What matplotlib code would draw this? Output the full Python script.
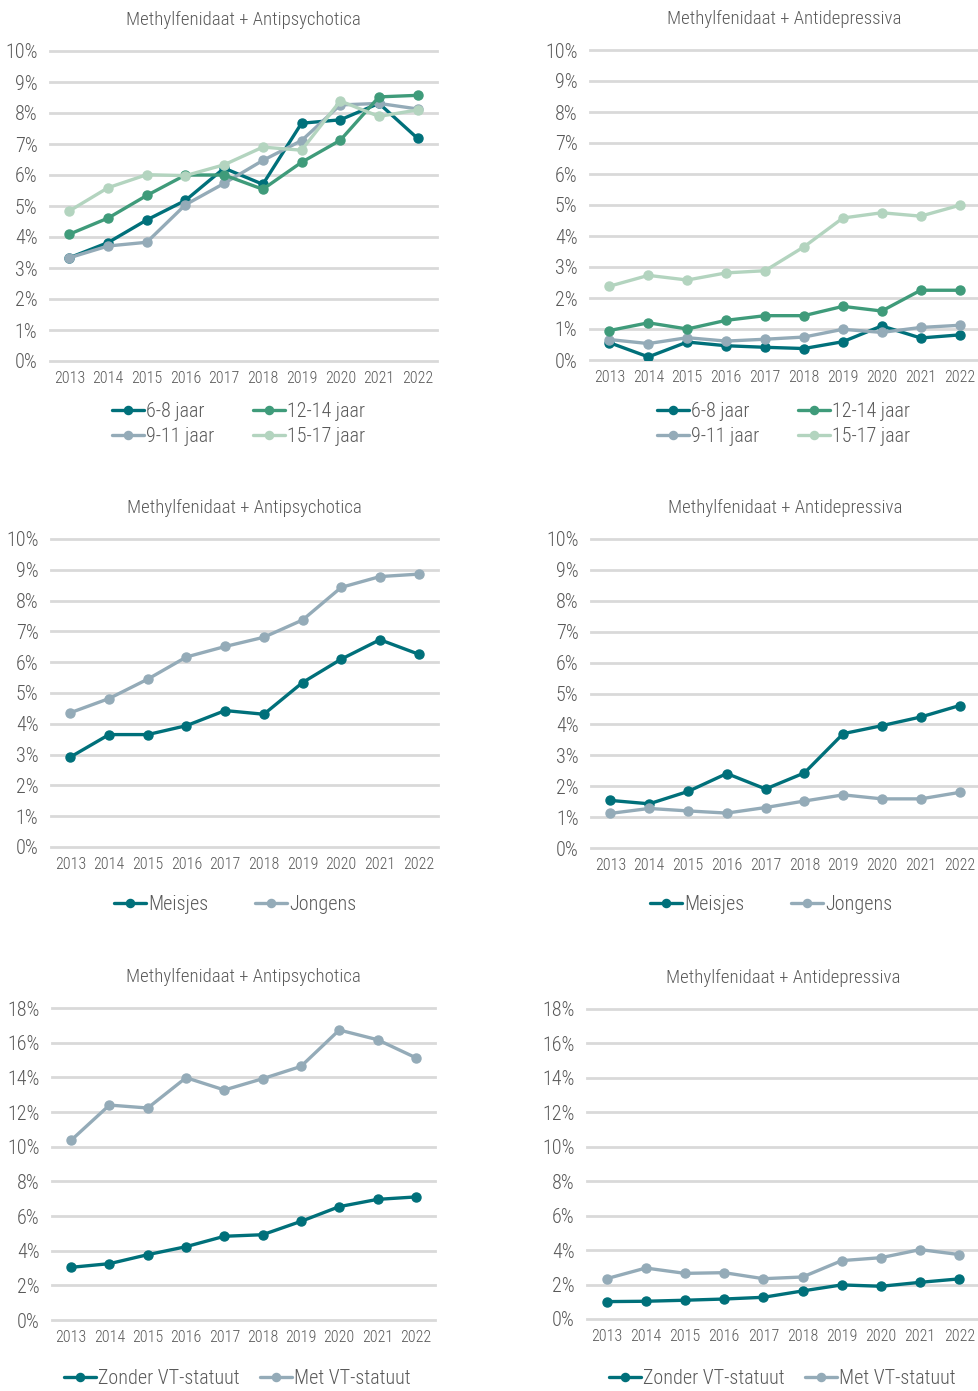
import matplotlib
matplotlib.use("Agg")
import matplotlib.pyplot as plt
from matplotlib import font_manager

# pick a narrow font if we have one
FONT = "DejaVu Sans"
for name in ["Liberation Sans Narrow", "Roboto Condensed", "Roboto", "Liberation Sans"]:
    try:
        font_manager.findfont(font_manager.FontProperties(family=name), fallback_to_default=False)
        FONT = name
        break
    except Exception:
        pass
plt.rcParams["font.family"] = [FONT, "DejaVu Sans"]
plt.rcParams["font.weight"] = "light"

years = [str(y) for y in range(2013, 2023)]

# leeftijd - antipsychotica
ap_6_8 = [3.33, 3.82, 4.55, 5.18, 6.22, 5.70, 7.67, 7.78, 8.31, 7.18]
ap_9_11 = [3.33, 3.71, 3.83, 5.04, 5.73, 6.47, 7.11, 8.26, 8.31, 8.13]
ap_12_14 = [4.09, 4.61, 5.34, 6.00, 6.00, 5.54, 6.41, 7.12, 8.52, 8.57]
ap_15_17 = [4.84, 5.59, 6.01, 5.98, 6.33, 6.90, 6.80, 8.39, 7.89, 8.10]

# leeftijd - antidepressiva
ad_6_8 = [0.56, 0.10, 0.58, 0.46, 0.41, 0.37, 0.59, 1.10, 0.71, 0.81]
ad_9_11 = [0.66, 0.53, 0.72, 0.61, 0.67, 0.74, 0.99, 0.89, 1.05, 1.12]
ad_12_14 = [0.95, 1.20, 1.00, 1.28, 1.43, 1.43, 1.73, 1.58, 2.25, 2.25]
ad_15_17 = [2.38, 2.73, 2.58, 2.81, 2.88, 3.65, 4.58, 4.75, 4.64, 4.99]

# geslacht
ap_meisjes = [2.92, 3.65, 3.65, 3.94, 4.43, 4.31, 5.34, 6.10, 6.73, 6.26]
ap_jongens = [4.36, 4.82, 5.45, 6.17, 6.51, 6.81, 7.37, 8.43, 8.78, 8.86]
ad_meisjes = [1.54, 1.43, 1.83, 2.41, 1.91, 2.43, 3.70, 3.96, 4.24, 4.61]
ad_jongens = [1.12, 1.28, 1.20, 1.13, 1.31, 1.52, 1.72, 1.59, 1.59, 1.80]

# VT-statuut
ap_zonder = [3.04, 3.25, 3.77, 4.23, 4.83, 4.92, 5.69, 6.54, 6.96, 7.10]
ap_met = [10.37, 12.40, 12.23, 13.98, 13.27, 13.92, 14.63, 16.73, 16.17, 15.13]
ad_zonder = [1.01, 1.03, 1.09, 1.16, 1.26, 1.63, 1.98, 1.90, 2.13, 2.33]
ad_met = [2.34, 2.96, 2.65, 2.69, 2.34, 2.44, 3.39, 3.56, 4.03, 3.74]

TEAL = "#00707a"
GREEN = "#3f9b7a"
GREYBLUE = "#94abb8"
LIGHTGREEN = "#b3d4bf"
TXT = "#595959"
GRID = "#d9d9d9"

W, H = 979, 1391
fig = plt.figure(figsize=(W / 100, H / 100), dpi=100)


def panel(x0, y0, x1, y1, title, series, ymax, ystep, leg_x, leg_y, colspace):
    ax = fig.add_axes([x0 / W, 1 - y1 / H, (x1 - x0) / W, (y1 - y0) / H])
    x = list(range(len(years)))
    for vals, lab, col in series:
        ax.plot(x, vals, color=col, lw=2.4, marker="o", ms=6.5, label=lab,
                mfc=col, mec=col, solid_capstyle="round")
    ax.set_xlim(-0.5, 9.5)
    ax.set_ylim(0, ymax)
    ticks = list(range(0, ymax + 1, ystep))
    ax.set_yticks(ticks)
    ax.set_yticklabels([f"{t}%" for t in ticks])
    ax.set_xticks(x)
    ax.set_xticklabels(years)
    ax.tick_params(axis="y", length=0, pad=9, labelsize=14.5, labelcolor=TXT)
    ax.tick_params(axis="x", length=0, pad=7, labelsize=11.5, labelcolor=TXT)
    for s in ax.spines.values():
        s.set_visible(False)
    ax.yaxis.grid(True, color=GRID, lw=2)
    for gl in ax.get_ygridlines():
        gl.set_clip_on(False)
    ax.set_axisbelow(True)
    ax.set_title(title, color=TXT, fontsize=13.5, pad=19, fontweight="light")
    ax.legend(loc="upper left", bbox_to_anchor=(leg_x / W, 1 - leg_y / H),
              bbox_transform=fig.transFigure, ncol=2, frameon=False,
              fontsize=14.5, labelcolor=TXT, handlelength=1.6, handletextpad=0.1,
              columnspacing=colspace, borderaxespad=0, borderpad=0, labelspacing=0.32,
              markerscale=0.9)
    return ax


panel(50, 51, 437, 361, "Methylfenidaat + Antipsychotica",
      [(ap_6_8, "6-8 jaar", TEAL), (ap_9_11, "9-11 jaar", GREYBLUE),
       (ap_12_14, "12-14 jaar", GREEN), (ap_15_17, "15-17 jaar", LIGHTGREEN)],
      10, 1, 112, 402, 1.9)
panel(590, 50, 979, 360, "Methylfenidaat + Antidepressiva",
      [(ad_6_8, "6-8 jaar", TEAL), (ad_9_11, "9-11 jaar", GREYBLUE),
       (ad_12_14, "12-14 jaar", GREEN), (ad_15_17, "15-17 jaar", LIGHTGREEN)],
      10, 1, 657, 402, 1.9)

panel(51, 539, 438, 847, "Methylfenidaat + Antipsychotica",
      [(ap_meisjes, "Meisjes", TEAL), (ap_jongens, "Jongens", GREYBLUE)],
      10, 1, 114, 895, 2.3)
panel(591, 539, 979, 848, "Methylfenidaat + Antidepressiva",
      [(ad_meisjes, "Meisjes", TEAL), (ad_jongens, "Jongens", GREYBLUE)],
      10, 1, 650, 895, 2.3)

panel(52, 1008, 435, 1320, "Methylfenidaat + Antipsychotica",
      [(ap_zonder, "Zonder VT-statuut", TEAL), (ap_met, "Met VT-statuut", GREYBLUE)],
      18, 2, 64, 1369, 1.0)
panel(587, 1009, 979, 1319, "Methylfenidaat + Antidepressiva",
      [(ad_zonder, "Zonder VT-statuut", TEAL), (ad_met, "Met VT-statuut", GREYBLUE)],
      18, 2, 609, 1369, 1.0)

fig.savefig("out.png", dpi=100, facecolor="white")
